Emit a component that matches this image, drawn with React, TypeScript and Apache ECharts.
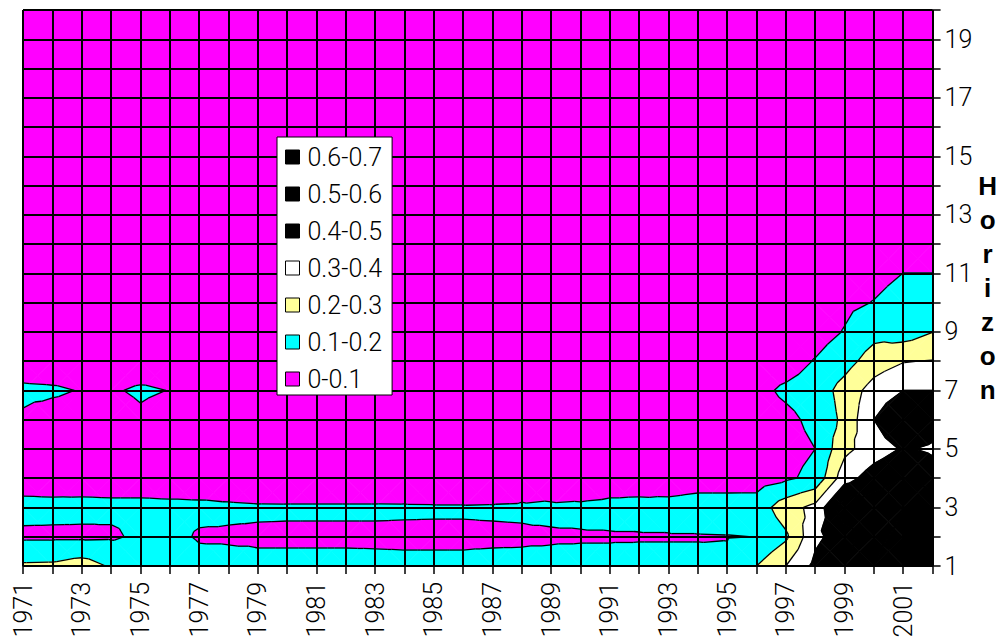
import React, { useEffect, useRef } from "react";
import * as echarts from "echarts";

const years = ["1971","1972","1973","1974","1975","1976","1977","1978","1979","1980","1981","1982","1983","1984","1985","1986","1987","1988","1989","1990","1991","1992","1993","1994","1995","1996","1997","1998","1999","2000","2001","2002"];
const horizons = ["1","2","3","4","5","6","7","8","9","10","11","12","13","14","15","16","17","18","19","20"];

// values per horizon row (1971 ... 2002)
const h1 = [0.215,0.218,0.245,0.19,0.16,0.14,0.118,0.113,0.108,0.108,0.108,0.108,0.107,0.106,0.106,0.106,0.108,0.109,0.113,0.118,0.118,0.123,0.123,0.123,0.117,0.2,0.3,0.425,0.5,0.6,0.65,0.68];
const h2 = [0.085,0.085,0.085,0.088,0.115,0.115,0.095,0.095,0.095,0.095,0.095,0.095,0.095,0.095,0.095,0.095,0.095,0.095,0.095,0.095,0.095,0.095,0.095,0.095,0.097,0.101,0.183,0.378,0.451,0.58,0.62,0.65];
const h3 = [0.125,0.122,0.12,0.117,0.117,0.114,0.1117,0.1075,0.105,0.1043,0.1043,0.1043,0.1043,0.1037,0.1033,0.1033,0.1043,0.1057,0.11,0.114,0.1203,0.1258,0.1336,0.149,0.147,0.143,0.257,0.329,0.565,0.55,0.6,0.6];
const h4 = [0.06,0.06,0.065,0.065,0.065,0.065,0.066,0.068,0.063,0.068,0.068,0.068,0.068,0.073,0.065,0.065,0.054,0.075,0.057,0.04,0.058,0.054,0.04,0.05,0.052,0.057,0.085,0.125,0.36,0.45,0.5,0.45];
const h5 = [0.05,0.048,0.045,0.046,0.05,0.047,0.045,0.044,0.042,0.043,0.044,0.042,0.041,0.043,0.044,0.042,0.04,0.043,0.041,0.039,0.042,0.04,0.038,0.041,0.044,0.05,0.07,0.1,0.274,0.35,0.41,0.385];
const h6 = [0.087,0.057,0.05,0.055,0.083,0.06,0.055,0.05,0.048,0.047,0.049,0.048,0.046,0.047,0.048,0.046,0.045,0.047,0.046,0.044,0.046,0.045,0.044,0.046,0.05,0.06,0.08,0.12,0.225,0.4,0.5,0.45];
const h7 = [0.12,0.115,0.095,0.09,0.113,0.098,0.08,0.072,0.068,0.066,0.067,0.065,0.064,0.066,0.065,0.064,0.063,0.065,0.064,0.062,0.064,0.063,0.062,0.065,0.07,0.0775,0.115,0.14,0.24,0.34,0.4,0.4];
const h8 = [0.042,0.03,0.04,0.045,0.045,0.05,0.048,0.045,0.044,0.043,0.045,0.044,0.042,0.043,0.044,0.043,0.042,0.044,0.043,0.041,0.043,0.042,0.041,0.043,0.046,0.05,0.06,0.105,0.16,0.249,0.295,0.305];
const h9 = [0.04,0.038,0.039,0.04,0.041,0.042,0.041,0.04,0.039,0.04,0.041,0.04,0.039,0.04,0.041,0.04,0.039,0.04,0.039,0.038,0.04,0.039,0.038,0.04,0.042,0.045,0.05,0.06,0.105,0.167,0.15,0.198];
const h10 = [0.038,0.037,0.038,0.039,0.04,0.04,0.039,0.038,0.038,0.039,0.039,0.038,0.037,0.038,0.039,0.038,0.037,0.038,0.037,0.036,0.038,0.037,0.036,0.038,0.04,0.042,0.045,0.05,0.08,0.103,0.135,0.15];
const h11 = [0.036,0.035,0.036,0.037,0.038,0.038,0.037,0.036,0.036,0.037,0.037,0.036,0.035,0.036,0.037,0.036,0.035,0.036,0.035,0.034,0.036,0.035,0.034,0.036,0.038,0.04,0.04,0.045,0.06,0.073,0.1005,0.1005];
const h12 = [0.034,0.033,0.034,0.035,0.036,0.036,0.035,0.034,0.034,0.035,0.035,0.034,0.033,0.034,0.035,0.034,0.033,0.034,0.033,0.032,0.034,0.033,0.032,0.034,0.036,0.037,0.038,0.04,0.045,0.05,0.07,0.06];
const h13 = [0.032,0.031,0.032,0.033,0.034,0.034,0.033,0.032,0.032,0.033,0.033,0.032,0.031,0.032,0.033,0.032,0.031,0.032,0.031,0.03,0.032,0.031,0.03,0.032,0.034,0.035,0.036,0.037,0.04,0.043,0.05,0.048];
const h14 = [0.03,0.029,0.03,0.031,0.032,0.032,0.031,0.03,0.03,0.031,0.031,0.03,0.029,0.03,0.031,0.03,0.029,0.03,0.029,0.028,0.03,0.029,0.028,0.03,0.032,0.033,0.034,0.035,0.037,0.04,0.043,0.042];
const h15 = [0.028,0.027,0.028,0.029,0.03,0.03,0.029,0.028,0.028,0.029,0.029,0.028,0.027,0.028,0.029,0.028,0.027,0.028,0.027,0.026,0.028,0.027,0.026,0.028,0.03,0.031,0.032,0.033,0.034,0.036,0.038,0.037];
const h16 = [0.027,0.026,0.027,0.028,0.029,0.029,0.028,0.027,0.027,0.028,0.028,0.027,0.026,0.027,0.028,0.027,0.026,0.027,0.026,0.025,0.027,0.026,0.025,0.027,0.029,0.03,0.031,0.031,0.032,0.034,0.035,0.034];
const h17 = [0.026,0.025,0.026,0.027,0.028,0.028,0.027,0.026,0.026,0.027,0.027,0.026,0.025,0.026,0.027,0.026,0.025,0.026,0.025,0.024,0.026,0.025,0.024,0.026,0.028,0.029,0.03,0.03,0.031,0.032,0.033,0.032];
const h18 = [0.025,0.024,0.025,0.026,0.027,0.027,0.026,0.025,0.025,0.026,0.026,0.025,0.024,0.025,0.026,0.025,0.024,0.025,0.024,0.023,0.025,0.024,0.023,0.025,0.027,0.028,0.029,0.029,0.03,0.031,0.031,0.03];
const h19 = [0.024,0.023,0.024,0.025,0.026,0.026,0.025,0.024,0.024,0.025,0.025,0.024,0.023,0.024,0.025,0.024,0.023,0.024,0.023,0.022,0.024,0.023,0.022,0.024,0.026,0.027,0.028,0.028,0.029,0.03,0.03,0.029];
const h20 = [0.023,0.022,0.023,0.024,0.025,0.025,0.024,0.023,0.023,0.024,0.024,0.023,0.022,0.023,0.024,0.023,0.022,0.023,0.022,0.021,0.023,0.022,0.021,0.023,0.025,0.026,0.027,0.027,0.028,0.029,0.029,0.028];

const rows = [h1,h2,h3,h4,h5,h6,h7,h8,h9,h10,h11,h12,h13,h14,h15,h16,h17,h18,h19,h20];

const bandNames = ["0-0.1","0.1-0.2","0.2-0.3","0.3-0.4","0.4-0.5","0.5-0.6","0.6-0.7"];
const bandLows = [0, 0.1, 0.2, 0.3, 0.4, 0.5, 0.6];
const bandColors = ["#FF00FF","#00FFFF","#FFFF99","#FFFFFF","#000000","#000000","#000000"];

const FONT = "Roboto";

type P = [number, number, number];

function clip(poly: P[], t: number, keepAbove: boolean): P[] {
  const out: P[] = [];
  const n = poly.length;
  for (let i = 0; i < n; i++) {
    const a = poly[i];
    const b = poly[(i + 1) % n];
    const ina = keepAbove ? a[2] >= t : a[2] < t;
    const inb = keepAbove ? b[2] >= t : b[2] < t;
    if (ina) out.push(a);
    if (ina !== inb) {
      const k = (t - a[2]) / (b[2] - a[2]);
      out.push([a[0] + (b[0] - a[0]) * k, a[1] + (b[1] - a[1]) * k, t]);
    }
  }
  return out;
}

function cellInfo(c: number, r: number) {
  const v00 = rows[r][c], v10 = rows[r][c + 1], v01 = rows[r + 1][c], v11 = rows[r + 1][c + 1];
  const ctr = (v00 + v10 + v01 + v11) / 4;
  const corners: P[] = [[0, 0, v00], [1, 0, v10], [1, 1, v11], [0, 1, v01]];
  const tris: P[][] = [];
  for (let k = 0; k < 4; k++) tris.push([corners[k], corners[(k + 1) % 4], [0.5, 0.5, ctr]]);
  return { vals: [v00, v10, v01, v11], corners, tris };
}

const cells: number[][] = [];
for (let r = 0; r < horizons.length - 1; r++) for (let c = 0; c < years.length - 1; c++) cells.push([c, r]);

function bandSeries(b: number) {
  const lo = b === 0 ? -Infinity : bandLows[b];
  const hi = b === bandLows.length - 1 ? Infinity : bandLows[b + 1];
  const color = bandColors[b];
  return {
    type: "custom",
    name: bandNames[b],
    silent: true,
    z: 2,
    itemStyle: { color },
    encode: { x: 0, y: 1 },
    data: cells,
    renderItem: (params: any, api: any) => {
      const c = api.value(0) as number;
      const r = api.value(1) as number;
      const info = cellInfo(c, r);
      const mn = Math.min(...info.vals), mx = Math.max(...info.vals);
      if (mx < lo || mn >= hi) return null;
      const p0 = api.coord([c, r]);
      const p1 = api.coord([c + 1, r + 1]);
      const px = (u: number, w: number) => [p0[0] + (p1[0] - p0[0]) * u, p0[1] + (p1[1] - p0[1]) * w];
      const style = { fill: color, stroke: color, lineWidth: 0.8 };
      if (mn >= lo && mx < hi) {
        return { type: "polygon", shape: { points: [px(0, 0), px(1, 0), px(1, 1), px(0, 1)] }, style };
      }
      const children: any[] = [];
      for (const tri of info.tris) {
        let poly = tri;
        if (isFinite(lo)) poly = clip(poly, lo, true);
        if (poly.length >= 3 && isFinite(hi)) poly = clip(poly, hi, false);
        if (poly.length >= 3) children.push({ type: "polygon", shape: { points: poly.map((p) => px(p[0], p[1])) }, style });
      }
      return { type: "group", children };
    },
  };
}

function contourSeries() {
  const thresholds = bandLows.slice(1);
  return {
    type: "custom",
    name: "contours",
    silent: true,
    z: 3,
    encode: { x: 0, y: 1 },
    data: cells,
    renderItem: (params: any, api: any) => {
      const c = api.value(0) as number;
      const r = api.value(1) as number;
      const info = cellInfo(c, r);
      const mn = Math.min(...info.vals), mx = Math.max(...info.vals);
      const p0 = api.coord([c, r]);
      const p1 = api.coord([c + 1, r + 1]);
      const px = (u: number, w: number) => [p0[0] + (p1[0] - p0[0]) * u, p0[1] + (p1[1] - p0[1]) * w];
      const children: any[] = [];
      for (const t of thresholds) {
        if (!(mn < t && mx >= t)) continue;
        for (const tri of info.tris) {
          const pts: number[][] = [];
          for (let i = 0; i < 3; i++) {
            const a = tri[i], b = tri[(i + 1) % 3];
            if ((a[2] >= t) !== (b[2] >= t)) {
              const k = (t - a[2]) / (b[2] - a[2]);
              pts.push(px(a[0] + (b[0] - a[0]) * k, a[1] + (b[1] - a[1]) * k));
            }
          }
          if (pts.length === 2) {
            children.push({
              type: "line",
              shape: { x1: pts[0][0], y1: pts[0][1], x2: pts[1][0], y2: pts[1][1] },
              style: { stroke: "#000", lineWidth: 1.3 },
            });
          }
        }
      }
      if (!children.length) return null;
      return { type: "group", children };
    },
  };
}

export default function App() {
  const ref = useRef<HTMLDivElement>(null);
  useEffect(() => {
    if (!ref.current) return;
    const chart = echarts.init(ref.current, undefined, { renderer: "svg" });
    const series: any[] = bandLows.map((_, i) => bandSeries(i));
    series.push(contourSeries());
    chart.setOption({
      animation: false,
      backgroundColor: "#ffffff",
      grid: { left: 23, top: 10, width: 911, height: 556, show: false },
      legend: {
        data: [...bandNames].reverse(),
        orient: "vertical",
        left: 277,
        top: 137,
        z: 10,
        icon: "rect",
        itemWidth: 14,
        itemHeight: 14,
        itemGap: 11,
        padding: [7, 10, 3, 8],
        backgroundColor: "#ffffff",
        borderColor: "#000000",
        borderWidth: 1,
        selectedMode: false,
        itemStyle: { borderColor: "#000000", borderWidth: 1 },
        textStyle: { fontSize: 25, lineHeight: 26, fontFamily: FONT, fontWeight: 300, color: "#000", padding: [0, 0, 0, 3] },
      },
      xAxis: {
        type: "category",
        data: years,
        boundaryGap: false,
        z: 5,
        axisLine: { show: true, lineStyle: { color: "#000", width: 1 } },
        axisTick: { show: true, interval: 0, length: 8, lineStyle: { color: "#000", width: 1.5 } },
        axisLabel: { interval: 1, rotate: 90, margin: 16, fontSize: 25, fontFamily: FONT, fontWeight: 300, color: "#000" },
        splitLine: { show: true, interval: 0, lineStyle: { color: "#000", width: 2 } },
      },
      yAxis: {
        type: "category",
        data: horizons,
        boundaryGap: false,
        position: "right",
        z: 5,
        name: "Horizon".split("").join("\n"),
        nameLocation: "middle",
        nameRotate: 0,
        nameGap: 51,
        nameTextStyle: { fontSize: 26, fontWeight: "bold", fontFamily: "Liberation Sans", lineHeight: 34, align: "center", verticalAlign: "middle", color: "#000" },
        axisLine: { show: true, lineStyle: { color: "#000", width: 1 } },
        axisTick: { show: true, interval: 0, length: 8, lineStyle: { color: "#000", width: 1.5 } },
        axisLabel: { interval: 1, margin: 12, fontSize: 25, fontFamily: FONT, fontWeight: 300, color: "#000" },
        splitLine: { show: true, interval: 0, lineStyle: { color: "#000", width: 2 } },
      },
      series,
    });
    return () => chart.dispose();
  }, []);
  return <div ref={ref} style={{ position: "absolute", left: 0, top: 0, width: 1000, height: 643 }} />;
}
